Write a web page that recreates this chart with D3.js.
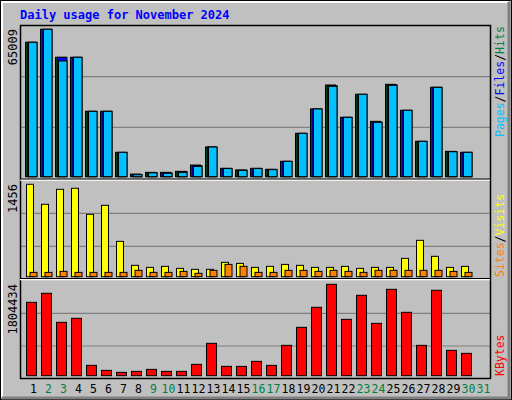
<!DOCTYPE html>
<html><head><meta charset="utf-8">
<script src="https://d3js.org/d3.v7.min.js"></script>
<style>body{margin:0;background:#fff}</style></head>
<body><svg id="c" width="512" height="400"></svg>
<script>
const days = d3.range(1,32);
const weekend = [2,3,9,10,16,17,23,24,30,31];
const hits  = [59273,65009,52655,52655,28828,28828,10737,1177,1912,1912,2353,5148,13090,3677,2942,3677,3236,6766,19120,29857,40447,26180,36329,24415,40741,29269,15590,39417,11178,10737,0];
const files = [59273,65009,52655,52655,28828,28828,10737,900,1800,1700,2300,4900,13090,3677,2900,3677,3236,6766,19120,29857,40200,26180,36329,24100,40500,29269,15590,39417,11000,10737,0];
const pages = [59273,65009,51037,52655,28828,28828,10737,880,1700,1500,1900,4500,13090,3600,2800,3600,3100,6766,19120,29857,39859,26180,36329,23974,40300,29269,15590,39417,11000,10737,0];
const visits= [1456,1141,1377,1393,983,1125,557,179,147,163,131,116,116,226,210,147,163,194,179,147,147,163,131,147,147,289,573,321,147,163,0];
const sites = [68,68,84,68,68,68,68,100,68,68,84,53,100,194,163,68,68,100,100,84,100,84,68,100,100,100,100,100,84,68,0];
const kbytes= [1448810,1626620,1053680,1132700,204150,105370,65855,85610,125120,85610,85610,223910,638790,184390,184390,283180,204150,599280,954900,1350030,1804434,1112950,1587100,1033920,1705640,1251250,599280,1685890,500500,441230,0];
const maxLabels = ["65009","1456","1804434"];

const svg = d3.select("#c");
const font = "'DejaVu Sans Mono', 'Liberation Mono', monospace";
svg.append("rect").attr("x",0).attr("y",0).attr("width",512).attr("height",400).attr("fill","#c0c0c0");
svg.append("rect").attr("x",0.5).attr("y",0.5).attr("width",511).attr("height",399).attr("fill","none").attr("stroke","#000");
svg.append("path").attr("d","M2,397V2H508").attr("stroke","#fff").attr("stroke-width",2).attr("fill","none");
svg.append("path").attr("d","M509,2V398H2").attr("stroke","#808080").attr("stroke-width",3).attr("fill","none");

svg.append("text").attr("x",20).attr("y",19).attr("fill","#0000ff").attr("font-family",font)
  .attr("font-weight","bold").attr("font-size",12).text("Daily usage for November 2024");

const x = d3.scaleBand().domain(days).range([25,490]).paddingInner(0).paddingOuter(0);
const step = 15;
const xs = d => 25 + step*(d-1);

const panels = [{top:25,bottom:176.7,max:65009},{top:181,bottom:276.7,max:1456},{top:281,bottom:376,max:1804434}];
const ys = [
  d3.scaleLinear().domain([0,65009]).range([176.7,29.3]),
  d3.scaleLinear().domain([0,1456]).range([276.7,184.3]),
  d3.scaleLinear().domain([0,1804434]).range([375.7,284.3])
];
// panel backgrounds / grids
ys.forEach((y,i)=>{
  [1/3,2/3].forEach(f=>{
    const gy = Math.round(y.range()[0] - f*(y.range()[0]-y.range()[1])*1.0/ (i==0?1:1));
  });
});
const grids = [[127.3,76.7],[246.3,213.3],[346,313.3]];
grids.forEach(g=>g.forEach(gy=>svg.append("line").attr("x1",21).attr("x2",490).attr("y1",gy).attr("y2",gy).attr("stroke","#808080").attr("stroke-width",1.2)));

function bars(data,y,dx,w,color){
  svg.append("g").selectAll("rect").data(days.filter((d,i)=>data[i]>0)).join("rect")
    .attr("x",d=>xs(d)+dx+0.5).attr("width",w)
    .attr("y",d=>y(data[d-1])).attr("height",d=>y(0)-y(data[d-1]))
    .attr("fill",color).attr("stroke","#000").attr("stroke-width",1);
}
bars(hits,ys[0],0,10,"#008040");
bars(files,ys[0],1.5,10,"#0000ff");
bars(pages,ys[0],3,8.5,"#00c0ff");
bars(visits,ys[1],1,7,"#ffff00");
bars(sites,ys[1],4.5,7,"#ff8000");
bars(kbytes,ys[2],1,10,"#ff0000");

// panel frame
svg.append("path").attr("d","M20.5,379V25.5H490.5V379").attr("fill","none").attr("stroke","#000").attr("stroke-width",1.5);
svg.append("line").attr("x1",20).attr("x2",490).attr("y1",180).attr("y2",180).attr("stroke","#fff").attr("stroke-width",1.5);
svg.append("line").attr("x1",20).attr("x2",490).attr("y1",279.5).attr("y2",279.5).attr("stroke","#fff").attr("stroke-width",1.5);
svg.append("line").attr("x1",20).attr("x2",490).attr("y1",179).attr("y2",179).attr("stroke","#000").attr("stroke-width",1);
svg.append("line").attr("x1",20).attr("x2",490).attr("y1",278.5).attr("y2",278.5).attr("stroke","#000").attr("stroke-width",1);
svg.append("line").attr("x1",20).attr("x2",491).attr("y1",378.5).attr("y2",378.5).attr("stroke","#000").attr("stroke-width",1.5);

// max labels
const maxTop = [29,184,284];
maxLabels.forEach((t,i)=>{
  svg.append("text").attr("transform",`translate(17,${maxTop[i]}) rotate(-90)`).attr("text-anchor","end")
    .attr("font-family",font).attr("font-size",12).attr("fill","#000").text(t);
});

// day labels
svg.append("g").selectAll("text").data(days).join("text")
  .attr("x",d=>xs(d)+8.5).attr("y",393).attr("text-anchor","middle")
  .attr("font-family",font).attr("font-size",11.5)
  .attr("fill",d=>weekend.includes(d)?"#008040":"#000").text(d=>d);

// right legends
function legend(parts,yStart){
  const t = svg.append("text").attr("transform",`translate(504,${yStart}) rotate(-90)`)
    .attr("font-family",font).attr("font-size",11.5);
  parts.forEach(p=>t.append("tspan").attr("fill",p[1]).text(p[0]));
}
legend([["Pages","#00c0ff"],["/","#000"],["Files","#0000ff"],["/","#000"],["Hits","#008040"]],137);
legend([["Sites","#ff8000"],["/","#000"],["Visits","#ffff00"]],277);
legend([["KBytes","#ff0000"]],376);
</script></body></html>
